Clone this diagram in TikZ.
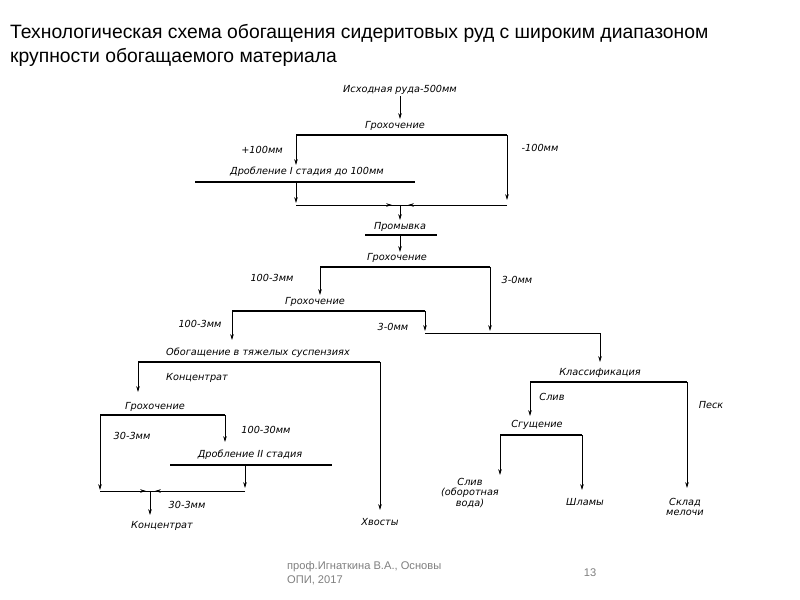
\documentclass[tikz,border=0pt]{standalone}
\usepackage{fontspec}
\setmainfont{Liberation Sans}
\newfontfamily\flowfont{DejaVu Sans}
\usetikzlibrary{arrows.meta}
\tikzset{
  lbl/.style={font=\flowfont\itshape\fontsize{8.3}{9.3}\selectfont, inner sep=1pt},
  bar/.style={line width=1.4pt},
  flow/.style={line width=0.6pt, -{Stealth[length=5pt,width=3pt]}},
  pipe/.style={line width=0.6pt}
}
\begin{document}
\begin{tikzpicture}[x=0.3mm,y=-0.3mm]
\useasboundingbox (0,0) rectangle (800,600);
\fill[white] (0,0) rectangle (800,600);

\node[anchor=west, font=\fontsize{16.5}{19}\selectfont] (title1) at (6,33) {Технологическая схема обогащения сидеритовых руд с широким диапазоном};
\node[anchor=west, font=\fontsize{16.5}{19}\selectfont] (title2) at (6,57) {крупности обогащаемого материала};

% first stage
\node[lbl] (src) at (400,90) {Исходная руда-500мм};
\draw[flow] (src) -- (400,119);
\node[lbl] (g1) at (395,126) {Грохочение};
\draw[bar] (296,135) -- (507,135);
\draw[flow] (296,135) -- (296,165);
\node[lbl] (p100) at (262,150) {+100мм};
\draw[flow] (507,135) -- (507,200);
\node[lbl] (m100) at (540,148) {-100мм};
\node[lbl] (dr1) at (307,172) {Дробление I стадия до 100мм};
\draw[bar] (195,182) -- (415,182);
\draw[flow] (296,182) -- (296,203);
\draw[pipe] (296,205) -- (507,205);
\draw[flow] (296,205) -- (392,205);
\draw[flow] (507,205) -- (408,205);
\draw[flow] (400,205) -- (400,220);
\node[lbl] (wash) at (400,227) {Промывка};
\draw[bar] (365,235) -- (437,235);
\draw[flow] (400,235) -- (400,252);

% second screening
\node[lbl] (g2) at (397,258) {Грохочение};
\draw[bar] (320,267) -- (490,267);
\draw[flow] (320,267) -- (320,295);
\node[lbl] (a1) at (272,278) {100-3мм};
\draw[flow] (490,267) -- (490,331);
\node[lbl] (a2) at (517,280) {3-0мм};
\node[lbl] (g3) at (315,302) {Грохочение};
\draw[bar] (232,311) -- (425,311);
\draw[flow] (232,311) -- (232,340);
\node[lbl] (a3) at (200,324) {100-3мм};
\draw[flow] (425,311) -- (425,331);
\node[lbl] (a4) at (393,327) {3-0мм};
\draw[pipe] (425,333) -- (600,333);
\draw[flow] (600,333) -- (600,362);

% heavy media
\node[lbl] (hm) at (258,353) {Обогащение в тяжелых суспензиях};
\draw[bar] (138,362) -- (380,362);
\draw[flow] (138,362) -- (138,392);
\node[lbl] (conc1) at (197,378) {Концентрат};
\draw[flow] (380,362) -- (380,510);
\node[lbl] (tail) at (380,522) {Хвосты};
\node[lbl] (g4) at (155,407) {Грохочение};
\draw[bar] (100,415) -- (225,415);
\draw[flow] (100,415) -- (100,490);
\node[lbl] (a5) at (132,436) {30-3мм};
\draw[flow] (225,415) -- (225,442);
\node[lbl] (a6) at (266,430) {100-30мм};
\node[lbl] (dr2) at (250,455) {Дробление II стадия};
\draw[bar] (170,465) -- (332,465);
\draw[flow] (245,465) -- (245,488);
\draw[pipe] (100,491) -- (245,491);
\draw[flow] (100,491) -- (146,491);
\draw[flow] (245,491) -- (155,491);
\draw[flow] (150,491) -- (150,515);
\node[lbl] (a7) at (187,505) {30-3мм};
\node[lbl] (conc2) at (162,526) {Концентрат};

% classification
\node[lbl] (cls) at (600,373) {Классификация};
\draw[bar] (530,382) -- (687,382);
\draw[flow] (530,382) -- (530,416);
\node[lbl] (ov) at (552,397) {Слив};
\draw[flow] (687,382) -- (687,488);
\node[lbl] (sand) at (711,405) {Песк};
\node[lbl] (thk) at (537,425) {Сгущение};
\draw[bar] (500,435) -- (582,435);
\draw[flow] (500,435) -- (500,475);
\draw[flow] (582,435) -- (582,490);
\node[lbl, align=center] (water) at (470,493) {Слив\\(оборотная\\вода)};
\node[lbl] (slime) at (585,502) {Шламы};
\node[lbl, align=center] (fines) at (685,507) {Склад\\мелочи};

% footer
\node[anchor=west, text=gray, font=\fontsize{9.5}{12.5}\selectfont, align=left] (foot) at (283,573) {проф.Игнаткина В.А., Основы\\ОПИ, 2017};
\node[text=gray, font=\fontsize{9.5}{11}\selectfont] (page) at (590,573) {13};
\end{tikzpicture}
\end{document}
